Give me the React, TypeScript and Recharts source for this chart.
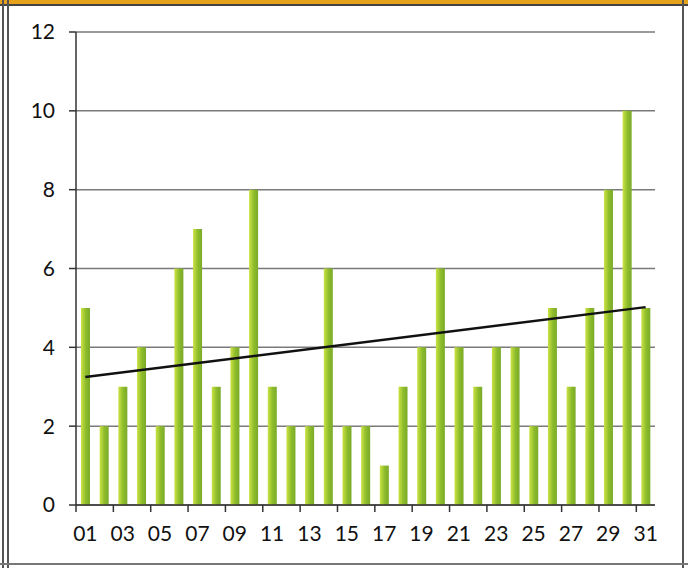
import React from 'react';
import { ComposedChart, Bar, Line, XAxis, YAxis, CartesianGrid } from 'recharts';

const days = [
  '01', '02', '03', '04', '05', '06', '07', '08', '09', '10',
  '11', '12', '13', '14', '15', '16', '17', '18', '19', '20',
  '21', '22', '23', '24', '25', '26', '27', '28', '29', '30', '31',
];
const counts = [5, 2, 3, 4, 2, 6, 7, 3, 4, 8, 3, 2, 2, 6, 2, 2, 1, 3, 4, 6, 4, 3, 4, 4, 2, 5, 3, 5, 8, 10, 5];
// trendline end points (first day, last day)
const trendEnds = [3.25, 5.02];
const yTicks = [0, 2, 4, 6, 8, 10, 12];

const data = days.map((d, i) => ({
  day: d,
  count: counts[i],
  trend: i === 0 ? trendEnds[0] : i === days.length - 1 ? trendEnds[1] : null,
}));

const font = 'Lato, "Open Sans", sans-serif';
const BAND = (655 - 76) / 31;

const XTick = (props: any) => {
  const { x, y, payload } = props;
  const left = x - BAND / 2;
  return (
    <g>
      <line x1={left} x2={left} y1={y - 8} y2={y - 1} stroke="#333" strokeWidth={1.5} />
      <text x={x} y={y + 28} textAnchor="middle" fontFamily={font} fontSize={21} fill="#111">
        {payload.value}
      </text>
    </g>
  );
};

export default function App() {
  return (
    <div style={{ position: 'absolute', left: 0, top: 0, width: 688, height: 568, background: '#fff', overflow: 'hidden' }}>
      <div style={{ position: 'absolute', left: 0, top: 0, width: 688, height: 4, background: '#e6a21a' }} />
      <div style={{ position: 'absolute', left: 0, top: 4, width: 688, height: 2, background: '#444' }} />
      <div style={{ position: 'absolute', left: 2, top: 0, width: 2, height: 568, background: '#555' }} />
      <div style={{ position: 'absolute', left: 7, top: 0, width: 2, height: 568, background: '#555' }} />
      <div style={{ position: 'absolute', left: 682, top: 0, width: 2, height: 568, background: '#555' }} />
      <div style={{ position: 'absolute', left: 0, top: 563, width: 688, height: 2, background: '#777' }} />
      <ComposedChart
        width={688}
        height={568}
        data={data}
        margin={{ top: 32, right: 33, bottom: 23, left: 0 }}
        barCategoryGap={0}
        style={{ position: 'absolute', left: 0, top: 0 }}
      >
        <defs>
          <linearGradient id="barGrad" x1="0" y1="0" x2="1" y2="0">
            <stop offset="0%" stopColor="#cbe343" />
            <stop offset="55%" stopColor="#8dbb2c" />
            <stop offset="100%" stopColor="#7aab28" />
          </linearGradient>
        </defs>
        <CartesianGrid vertical={false} stroke="#7a7a7a" strokeWidth={1.5} />
        <XAxis
          dataKey="day"
          interval={1}
          height={40}
          axisLine={{ stroke: '#333', strokeWidth: 1.5 }}
          tickLine={false}
          tick={<XTick />}
        />
        <YAxis
          width={76}
          domain={[0, 12]}
          ticks={yTicks}
          interval={0}
          axisLine={{ stroke: '#333', strokeWidth: 1.5 }}
          tickLine={{ stroke: '#333', strokeWidth: 1.5 }}
          tickSize={7}
          tickMargin={14}
          tick={{ fontFamily: font, fontSize: 21, fill: '#111' }}
        />
        <Bar dataKey="count" barSize={9} fill="url(#barGrad)" isAnimationActive={false} />
        <Line
          dataKey="trend"
          type="linear"
          stroke="#111"
          strokeWidth={2.5}
          dot={false}
          connectNulls
          isAnimationActive={false}
        />
      </ComposedChart>
    </div>
  );
}
